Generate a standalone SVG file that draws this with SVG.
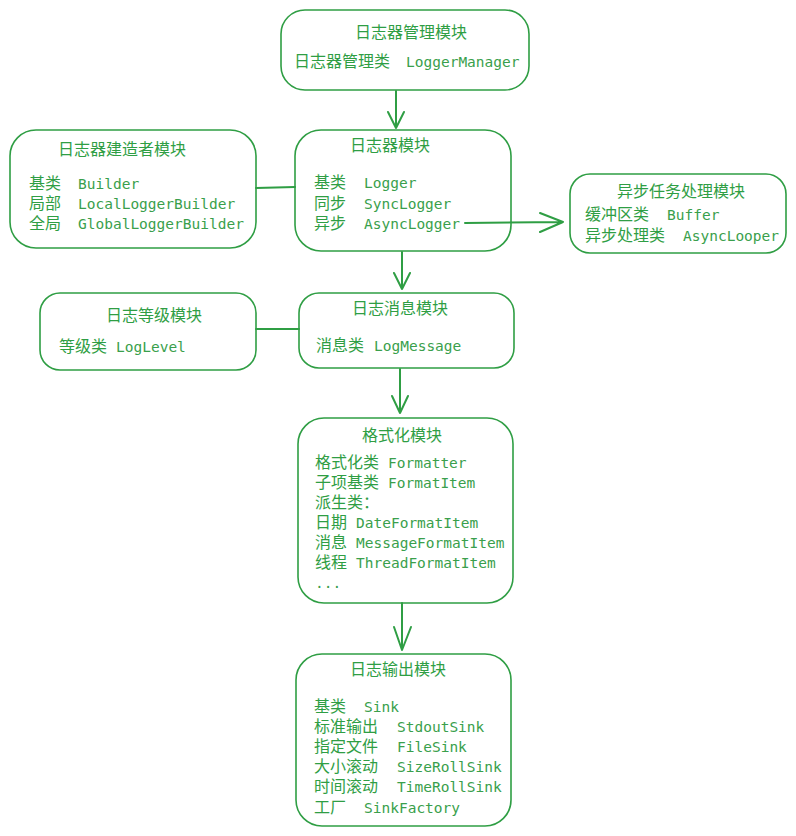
<svg xmlns="http://www.w3.org/2000/svg" width="796" height="836" viewBox="0 0 796 836">
<style>
.box{fill:#fff;stroke:#2f9e44;stroke-width:1.6}
.cn{font-family:"Noto Sans CJK SC","Noto Sans",sans-serif;font-size:16px;fill:#2f9e44}
.en{font-family:"DejaVu Sans Mono","Liberation Mono",monospace;font-size:14.5px;fill:#3a9f4c}
.ln{fill:none;stroke:#2f9e44;stroke-width:2;stroke-linecap:round;stroke-linejoin:round}
</style>
<rect width="796" height="836" fill="#fff"/>
<g id="manager">
<rect class="box" x="281" y="10" width="248" height="80" rx="24"/>
<text class="cn" x="355" y="38">日志器管理模块</text>
<text class="cn"><tspan x="294" y="67">日志器管理类</tspan><tspan class="en" x="406" y="67">LoggerManager</tspan></text>
</g>
<g id="builder">
<rect class="box" x="10" y="130" width="246" height="118" rx="26"/>
<text class="cn" x="58" y="155">日志器建造者模块</text>
<text class="cn"><tspan x="29" y="189">基类</tspan><tspan class="en" x="78" y="189">Builder</tspan><tspan x="29" y="209">局部</tspan><tspan class="en" x="78" y="209">LocalLoggerBuilder</tspan><tspan x="29" y="229">全局</tspan><tspan class="en" x="78" y="229">GlobalLoggerBuilder</tspan></text>
</g>
<g id="logger">
<rect class="box" x="295" y="130" width="216" height="121" rx="26"/>
<text class="cn" x="350" y="151">日志器模块</text>
<text class="cn"><tspan x="314" y="188">基类</tspan><tspan class="en" x="364" y="188">Logger</tspan><tspan x="314" y="209">同步</tspan><tspan class="en" x="364" y="209">SyncLogger</tspan><tspan x="314" y="229">异步</tspan><tspan class="en" x="364" y="229">AsyncLogger</tspan></text>
</g>
<g id="async">
<rect class="box" x="570" y="174" width="216" height="79" rx="20"/>
<text class="cn" x="617" y="197">异步任务处理模块</text>
<text class="cn"><tspan x="585" y="220">缓冲区类</tspan><tspan class="en" x="667" y="220">Buffer</tspan><tspan x="585" y="241">异步处理类</tspan><tspan class="en" x="683" y="241">AsyncLooper</tspan></text>
</g>
<g id="level">
<rect class="box" x="40" y="293" width="216" height="77" rx="20"/>
<text class="cn" x="106" y="321">日志等级模块</text>
<text class="cn"><tspan x="59" y="352">等级类</tspan><tspan class="en" x="116" y="352">LogLevel</tspan></text>
</g>
<g id="message">
<rect class="box" x="299" y="293" width="215" height="75" rx="20"/>
<text class="cn" x="352" y="314">日志消息模块</text>
<text class="cn"><tspan x="316" y="351">消息类</tspan><tspan class="en" x="374" y="351">LogMessage</tspan></text>
</g>
<g id="formatter">
<rect class="box" x="298" y="418" width="215" height="185" rx="26"/>
<text class="cn" x="362" y="441">格式化模块</text>
<text class="cn"><tspan x="315" y="468">格式化类</tspan><tspan class="en" x="388" y="468">Formatter</tspan><tspan x="315" y="488">子项基类</tspan><tspan class="en" x="388" y="488">FormatItem</tspan><tspan x="315" y="508">派生类：</tspan><tspan x="315" y="528">日期</tspan><tspan class="en" x="356" y="528">DateFormatItem</tspan><tspan x="315" y="548">消息</tspan><tspan class="en" x="356" y="548">MessageFormatItem</tspan><tspan x="315" y="568">线程</tspan><tspan class="en" x="356" y="568">ThreadFormatItem</tspan><tspan class="en" x="315" y="588">...</tspan></text>
</g>
<g id="sink">
<rect class="box" x="296" y="654" width="215" height="172" rx="26"/>
<text class="cn" x="350" y="675">日志输出模块</text>
<text class="cn"><tspan x="314" y="712">基类</tspan><tspan class="en" x="364" y="712">Sink</tspan><tspan x="314" y="732">标准输出</tspan><tspan class="en" x="397" y="732">StdoutSink</tspan><tspan x="314" y="752">指定文件</tspan><tspan class="en" x="397" y="752">FileSink</tspan><tspan x="314" y="772">大小滚动</tspan><tspan class="en" x="397" y="772">SizeRollSink</tspan><tspan x="314" y="792">时间滚动</tspan><tspan class="en" x="397" y="792">TimeRollSink</tspan><tspan x="314" y="813">工厂</tspan><tspan class="en" x="364" y="813">SinkFactory</tspan></text>
</g>
<g id="connectors">
<path class="ln" d="M396 91 V128 M388 112 L396 128 L404 112"/>
<path class="ln" d="M256 188 L295 187"/>
<path class="ln" d="M465 223 L563 222 M540 213 L563 222 L540 232"/>
<path class="ln" d="M402 252 V289 M394 273 L402 289 L410 273"/>
<path class="ln" d="M256 329 L299 329"/>
<path class="ln" d="M400 369 V413 M392 396 L400 413 L408 396"/>
<path class="ln" d="M402 603 V650 M394 627 L402 650 L411 627"/>
</g>
</svg>
